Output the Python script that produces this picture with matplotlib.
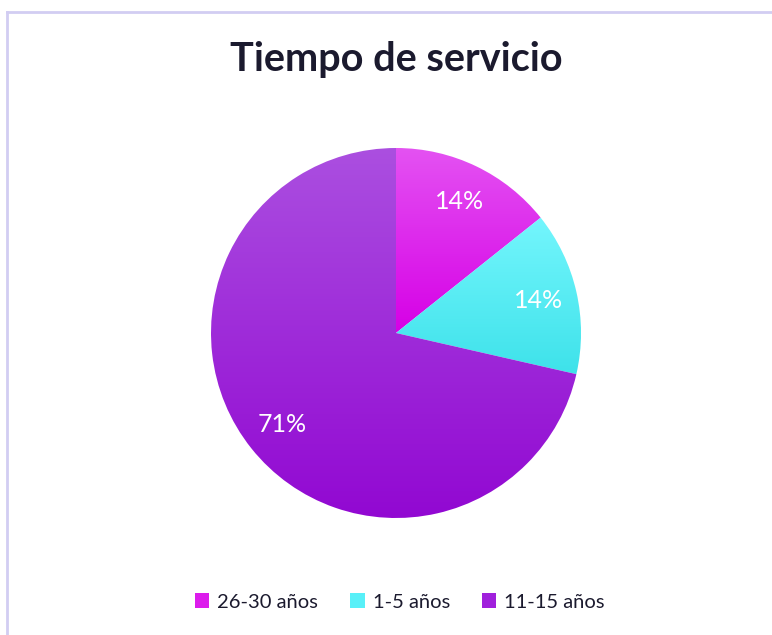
import numpy as np
import matplotlib
matplotlib.use("Agg")
import matplotlib.pyplot as plt
from matplotlib.colors import LinearSegmentedColormap
from matplotlib.lines import Line2D
from matplotlib.patches import Patch

# data
categories = ["26-30 años", "1-5 años", "11-15 años"]
values = [1, 1, 5]
labels_pct = ["14%", "14%", "71%"]

# gradient colours (top -> bottom) per slice
grad_top = ["#e452f2", "#74f6fd", "#ab4fe0"]
grad_bot = ["#d600e6", "#3ee2ea", "#9208d2"]
legend_colors = ["#dc1cec", "#58f0f8", "#a020dc"]

W, H = 772, 635
fig = plt.figure(figsize=(W / 100, H / 100), dpi=100)
fig.patch.set_facecolor("white")

# pie axes placed around centre (396, 333) px with radius 185 px
cx, cy, r = 396, 333, 185
ax = fig.add_axes([(cx - r) / W, (H - cy - r) / H, 2 * r / W, 2 * r / H])

wedges, _ = ax.pie(values, startangle=90, counterclock=False, radius=1,
                   wedgeprops=dict(linewidth=0, edgecolor="none"))

grad = np.linspace(0, 1, 256).reshape(-1, 1)
for w, ct, cb, lab in zip(wedges, grad_top, grad_bot, labels_pct):
    w.set_facecolor("none")
    ext = w.get_path().get_extents()
    cmap = LinearSegmentedColormap.from_list("g", [ct, cb])
    im = ax.imshow(grad, cmap=cmap, aspect="auto", origin="upper",
                   extent=[ext.x0, ext.x1, ext.y0, ext.y1], zorder=1)
    im.set_clip_path(w)
    mid = np.deg2rad((w.theta1 + w.theta2) / 2)
    ax.text(0.79 * np.cos(mid), 0.79 * np.sin(mid), lab, ha="center",
            va="center", color="white", fontsize=18, family="Lato", zorder=3)

ax.set_xlim(-1, 1)
ax.set_ylim(-1, 1)
ax.set_aspect("equal")
ax.axis("off")

fig.text(396 / W, 1 - 59 / H, "Tiempo de servicio", ha="center", va="center",
         fontsize=28.5, fontweight="bold", color="#1b1a2e", family="Lato")

handles = [Patch(facecolor=c, edgecolor="none") for c in legend_colors]
fig.legend(handles, categories, loc="center", ncol=3,
           bbox_to_anchor=(400 / W, 1 - 602 / H), frameon=False,
           prop=dict(family="Lato", size=14.5), labelcolor="#1b1a2e",
           handlelength=0.7, handleheight=0.7, handletextpad=0.4,
           columnspacing=1.6)

# top/left border of the chart area
border = "#d2cdf2"
fig.add_artist(Line2D([7 / W, 1], [1 - 12 / H, 1 - 12 / H], color=border,
                      linewidth=2, transform=fig.transFigure))
fig.add_artist(Line2D([7 / W, 7 / W], [0, 1 - 12 / H], color=border,
                      linewidth=2, transform=fig.transFigure))

plt.savefig("out.png", dpi=100)
